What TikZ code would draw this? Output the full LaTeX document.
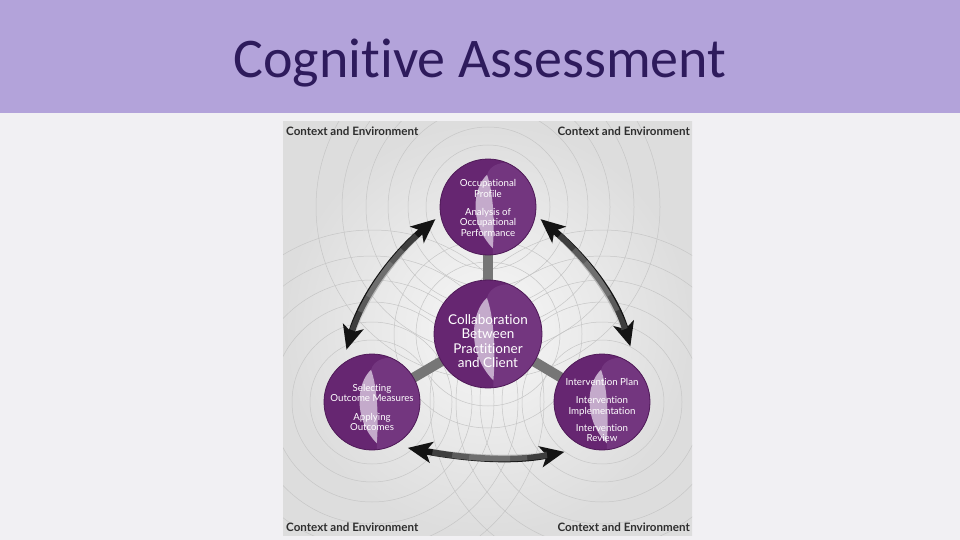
\documentclass[tikz,border=0pt]{standalone}
\usepackage{fontspec}
\setmainfont[Ligatures=NoCommon]{Lato}
\newfontfamily\titlefont[Ligatures=NoCommon]{Carlito}
\usetikzlibrary{arrows.meta}
\pgfdeclarelayer{back}
\pgfdeclarelayer{mid}
\pgfdeclarelayer{disc}
\pgfdeclarelayer{shine}
\pgfsetlayers{back,mid,disc,shine,main}
\definecolor{band}{HTML}{B3A3DA}
\definecolor{slidebg}{HTML}{F1F0F3}
\definecolor{titlecol}{HTML}{2E1B5C}
\definecolor{plum}{HTML}{662671}
\definecolor{plumlight}{HTML}{73367F}
\definecolor{plumedge}{HTML}{4F1A58}
\definecolor{crescentcol}{HTML}{CFB9D5}
\definecolor{ringcol}{HTML}{C6C6C6}
\definecolor{labelcol}{HTML}{2E2E2E}
\definecolor{arrowcol}{HTML}{141414}
\definecolor{glowcol}{HTML}{A0A0A0}
\definecolor{spokecol}{HTML}{767676}
\definecolor{diagin}{HTML}{F7F7F7}
\definecolor{diagout}{HTML}{DDDDDD}
% #1: extra room above the lines (twice the downward shift), #2: the lines
\newcommand{\stagelines}[2]{\raisebox{0pt}[\dimexpr\height+#1\relax][\depth]{\begin{tabular}{@{}c@{}}#2\end{tabular}}}
\begin{document}
\begin{tikzpicture}[x=1pt,y=-1pt,
  stage/.style={circle, inner sep=0pt, outer sep=6pt, text=white, minimum size={2*#1}},
  smalltext/.style={font=\fontsize{9.7}{10.2}\selectfont},
  bigtext/.style={font=\fontsize{13.5}{14.4}\selectfont},
  cornerlabel/.style={font=\fontsize{11.6}{13}\selectfont\bfseries, text=labelcol, inner sep=0pt},
  ring/.style={draw=ringcol, line width=0.5pt},
  spoke/.style={draw=spokecol, line width=10pt},
  bigarrow/.style={draw=arrowcol, line width=6.5pt,
    {Stealth[length=24pt,width=21pt,inset=6pt]}-{Stealth[length=24pt,width=21pt,inset=6pt]}},
  glow/.style={draw=glowcol, line width=6.5pt, opacity=0.3}
]
\useasboundingbox (0,0) rectangle (960,540);
\begin{pgfonlayer}{back}
  \fill[slidebg] (0,0) rectangle (960,540);
  \fill[band] (0,0) rectangle (960,113);
  \shade[inner color=diagin, outer color=diagout] (283,122) rectangle (692,535);
  \begin{scope}
    \clip (283,122) rectangle (692,535);
    \foreach \cx/\cy in {488/207, 372/402, 602/402}
      \foreach \r in {62,80,100,122,146,172}
        \draw[ring] (\cx,\cy) circle[radius=\r];
    \foreach \r in {72,94}
      \draw[ring] (488,334) circle[radius=\r];
  \end{scope}
\end{pgfonlayer}

\node[titlecol, font=\titlefont\fontsize{56}{60}\selectfont, anchor=base, inner sep=0pt] (title) at (480,78) {Cognitive Assessment};

\node[cornerlabel, anchor=west] (ctl) at (286,131) {Context and Environment};
\node[cornerlabel, anchor=east] (ctr) at (690,131) {Context and Environment};
\node[cornerlabel, anchor=west] (cbl) at (286,527) {Context and Environment};
\node[cornerlabel, anchor=east] (cbr) at (690,527) {Context and Environment};

\node[stage=54, bigtext] (ncenter) at (488,334)
  {\stagelines{18pt}{Collaboration\\Between\\Practitioner\\and Client}};
\node[stage=48, smalltext] (ntop) at (488,207)
  {\stagelines{5pt}{Occupational\\Profile\\[8.5pt]Analysis of\\Occupational\\Performance}};
\node[stage=48, smalltext] (nleft) at (372,402)
  {\stagelines{14pt}{Selecting\\Outcome Measures\\[8.5pt]Applying\\Outcomes}};
\node[stage=48, smalltext] (nright) at (602,402)
  {\stagelines{19pt}{Intervention Plan\\[8.5pt]Intervention\\Implementation\\[7.5pt]Intervention\\Review}};

\begin{pgfonlayer}{mid}
  \draw[spoke] (ncenter.center) -- (ntop.center);
  \draw[spoke] (ncenter.center) -- (nleft.center);
  \draw[spoke] (ncenter.center) -- (nright.center);
\end{pgfonlayer}

\begin{pgfonlayer}{disc}
  \foreach \n/\r in {ncenter/54, ntop/48, nleft/48, nright/48}
    \fill[plum] (\n.center) circle[radius=\r];
\end{pgfonlayer}

\begin{pgfonlayer}{shine}
  \foreach \n/\r in {ncenter/54, ntop/48, nleft/48, nright/48} {
    \begin{scope}
      \clip (\n.center) circle[radius=\r];
      \begin{scope}[shift={(\n.center)}, scale=\r]
        \fill[plumlight] (-0.02,-0.67) .. controls (0.1,-1.1) and (1.0,-1.0) .. (1.2,-0.2)
          -- (1.2,1.2) -- (0.1,1.2) -- (0.1,0.86) .. controls (0.14,0.4) and (0.12,-0.3) .. cycle;
        \fill[crescentcol, opacity=0.9] (-0.02,-0.67) .. controls (-0.32,-0.4) and (-0.4,0.35) .. (0.1,0.86)
          .. controls (0.14,0.4) and (0.12,-0.3) .. cycle;
      \end{scope}
    \end{scope}
    \draw[plumedge, line width=0.8pt] (\n.center) circle[radius=\r];
  }
\end{pgfonlayer}

% left arrow
\draw[bigarrow] (ntop.193) .. controls +(-42.5,36) and +(15.5,-53.3) .. (nleft.116);
\foreach \off/\on in {25/115, 45/75, 62/41}
  \draw[glow, dash pattern=on 0pt off \off pt on \on pt off 400pt]
    (ntop.193) .. controls +(-42.5,36) and +(15.5,-53.3) .. (nleft.116);
% right arrow
\draw[bigarrow] (ntop.347) .. controls +(42.5,36) and +(-15.5,-53.3) .. (nright.63);
\foreach \off/\on in {25/115, 45/75, 62/41}
  \draw[glow, dash pattern=on 0pt off \off pt on \on pt off 400pt]
    (ntop.347) .. controls +(42.5,36) and +(-15.5,-53.3) .. (nright.63);
% bottom arrow
\draw[bigarrow] (nleft.308) .. controls +(53,10) and +(-54,11) .. (nright.233);
\foreach \off/\on in {25/115, 45/75, 62/41}
  \draw[glow, dash pattern=on 0pt off \off pt on \on pt off 400pt]
    (nleft.308) .. controls +(53,10) and +(-54,11) .. (nright.233);
\end{tikzpicture}
\end{document}
